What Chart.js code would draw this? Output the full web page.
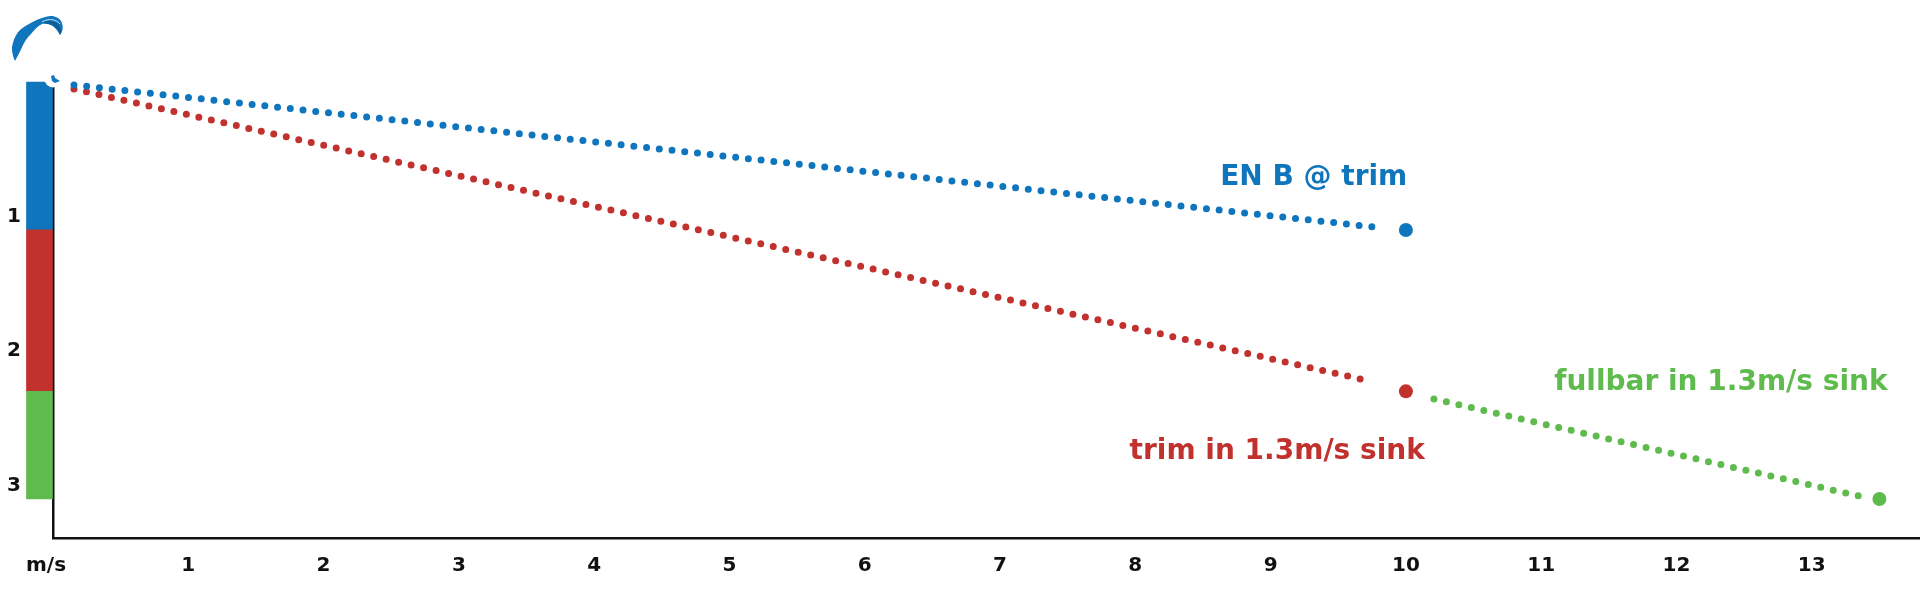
<!DOCTYPE html>
<html>
<head>
<meta charset="utf-8">
<script src="https://cdn.jsdelivr.net/npm/chart.js@4"></script>
<style>
  html, body { margin: 0; padding: 0; background: #fff; }
  #wrap { position: relative; width: 1920px; height: 608px; overflow: hidden; }
  #wing { position: absolute; left: 0; top: 0; }
</style>
</head>
<body>
<div id="wrap">
  <canvas id="chart-glide" width="1927" height="608"></canvas>
  <svg id="wing" width="100" height="110" viewBox="0 0 100 110">
    <circle cx="53" cy="79" r="8.5" fill="#fff"/>
    <path d="M15 61 C12 54 11 48 13 43 C14 38 17 33 20 30 C26 25 40 17 50 16 C55 15.500 59 18 61 21 C63 25 64 30 60 35 C58 31 56 28 53 26 C50 24 45 23 42 24 C38 26 34 30 31 34 C27 38 25 41 23 45 C21 50 18 55 15 61 Z" fill="#0f75bc"/>
    <path d="M42 24 C48 19 55 21 58 24 C61 27 62 31 60 35 C58 31 56 28 53 26 C50 24 45 23 42 24 Z" fill="#0d5f9a"/>
    <path d="M42 22 C48 18 56 19 60 24" fill="none" stroke="#dbeaf5" stroke-width="0.9"/>
    <path d="M51 76 L54 75 L55 78 L60 81 L55 83 L52 81 Z" fill="#0f75bc"/>
  </svg>
</div>
<script>
const BLUE = '#0f75bc';
const RED = '#c1312e';
const GREEN = '#5fbb4e';

const X_TICKS = [0, 1, 2, 3, 4, 5, 6, 7, 8, 9, 10, 11, 12, 13];
const Y_TICKS = [1, 2, 3];

// stacked bar at the left of the axis
const BAR_X = -0.1;
const BAR_RANGES = [[0, 1.1], [1.1, 2.3], [2.3, 3.1]];
const BAR_COLORS = [BLUE, RED, GREEN];

// dotted glide lines, [speed, sink]
const TRIM_LINE = [[0.155, 0.022], [9.78, 1.08]];
const SINK_LINE = [[0.155, 0.052], [9.70, 2.216]];
const FULLBAR_LINE = [[10.207, 2.357], [13.40, 3.09]];

// end dots
const END_SPEEDS = [10, 10, 13.5];
const END_SINKS = [1.1, 2.3, 3.1];
const END_COLORS = [BLUE, RED, GREEN];

const LABEL_TEXTS = ['EN B @ trim', 'trim in 1.3m/s sink', 'fullbar in 1.3m/s sink'];
const LABEL_SPEEDS = [10.01, 10.14, 13.56];
const LABEL_SINKS = [0.766, 2.80, 2.29];
const LABEL_COLORS = [BLUE, RED, GREEN];

const toPoints = line => line.map(p => ({ x: p[0], y: p[1] }));

function dotted(line, color) {
  return {
    type: 'line',
    data: toPoints(line),
    borderColor: color,
    borderWidth: 7,
    borderDash: [0, 12.8],
    borderCapStyle: 'round',
    pointRadius: 0,
    clip: false,
  };
}

const seriesLabels = {
  id: 'seriesLabels',
  afterDatasetsDraw(chart) {
    const { ctx, scales } = chart;
    ctx.save();
    ctx.font = 'bold 28px "DejaVu Sans"';
    ctx.textAlign = 'right';
    ctx.textBaseline = 'alphabetic';
    LABEL_TEXTS.forEach((t, i) => {
      ctx.fillStyle = LABEL_COLORS[i];
      ctx.fillText(t, scales.x.getPixelForValue(LABEL_SPEEDS[i]), scales.y.getPixelForValue(LABEL_SINKS[i]));
    });
    ctx.restore();
  },
};

new Chart(document.getElementById('chart-glide'), {
  data: {
    datasets: [
      {
        type: 'bar',
        data: BAR_RANGES.map(r => ({ x: BAR_X, y: r })),
        backgroundColor: BAR_COLORS,
        barThickness: 26,
        clip: false,
      },
      dotted(TRIM_LINE, BLUE),
      dotted(SINK_LINE, RED),
      dotted(FULLBAR_LINE, GREEN),
      {
        type: 'scatter',
        data: END_SPEEDS.map((s, i) => ({ x: s, y: END_SINKS[i] })),
        backgroundColor: END_COLORS,
        borderWidth: 0,
        pointRadius: 7,
        clip: false,
      },
    ],
  },
  options: {
    responsive: false,
    animation: false,
    layout: { padding: { top: 82, left: 0, right: 0, bottom: 0 } },
    plugins: { legend: { display: false }, tooltip: { enabled: false } },
    scales: {
      x: {
        type: 'linear',
        offset: false,
        min: 0,
        max: 13.8,
        afterBuildTicks: s => { s.ticks = X_TICKS.map(v => ({ value: v })); },
        afterFit: s => { s.height = 69.5; },
        grid: { display: false },
        border: { color: '#111', width: 2.5 },
        ticks: {
          color: '#111',
          font: { family: 'DejaVu Sans', weight: 'bold', size: 20 },
          padding: 7,
          maxRotation: 0,
          callback: v => (v === 0 ? 'm/s\u00a0\u00a0' : v),
        },
      },
      y: {
        type: 'linear',
        reverse: true,
        min: 0,
        max: 3.394,
        afterBuildTicks: s => { s.ticks = Y_TICKS.map(v => ({ value: v })); },
        afterFit: s => { s.width = 53; },
        grid: { display: false },
        border: { color: '#111', width: 2.5 },
        ticks: {
          color: '#111',
          font: { family: 'DejaVu Sans', weight: 'bold', size: 20 },
          padding: 24,
        },
      },
    },
  },
  plugins: [seriesLabels],
});
</script>
</body>
</html>
